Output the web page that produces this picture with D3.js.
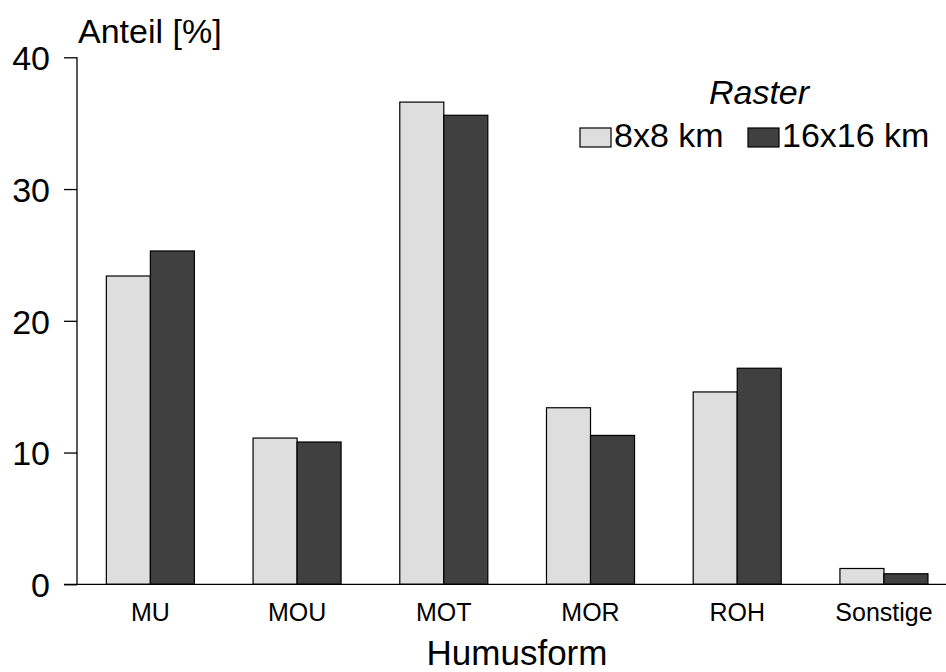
<!DOCTYPE html>
<html>
<head>
<meta charset="utf-8">
<script src="https://cdn.jsdelivr.net/npm/d3@7"></script>
<style>
  body { margin: 0; background: #fff; }
  text { font-family: "Liberation Sans", Arial, sans-serif; fill: #000; }
</style>
</head>
<body>
<script>
// data
var categories = ['MU', 'MOU', 'MOT', 'MOR', 'ROH', 'Sonstige'];
var seriesNames = ['8x8 km', '16x16 km'];
var raster8 = [23.4, 11.1, 36.6, 13.4, 14.6, 1.2];
var raster16 = [25.3, 10.8, 35.6, 11.3, 16.4, 0.8];
var yTicks = [0, 10, 20, 30, 40];
var colors = ['#dedede', '#404040'];

var svg = d3.select('body').append('svg')
  .attr('width', 946)
  .attr('height', 672);

var x = d3.scaleBand()
  .domain(categories)
  .range([77, 957.3])
  .paddingInner(0.4)
  .paddingOuter(0.2);

var x1 = d3.scaleBand()
  .domain(seriesNames)
  .range([0, x.bandwidth()]);

var y = d3.scaleLinear()
  .domain([0, 40])
  .range([584.3, 57.3]);

var rows = categories.map(function(c, i) {
  return { cat: c, values: [raster8[i], raster16[i]] };
});

// bars
var group = svg.append('g').selectAll('g')
  .data(rows)
  .enter().append('g')
    .attr('transform', function(d) { return 'translate(' + x(d.cat) + ',0)'; });

group.selectAll('rect')
  .data(function(d) { return d.values.map(function(v, j) { return { s: seriesNames[j], v: v, j: j }; }); })
  .enter().append('rect')
    .attr('x', function(d) { return x1(d.s); })
    .attr('y', function(d) { return y(d.v); })
    .attr('width', x1.bandwidth())
    .attr('height', function(d) { return y(0) - y(d.v); })
    .style('fill', function(d) { return colors[d.j]; })
    .style('stroke', '#000')
    .style('stroke-width', 1.2);

// y axis
var yAxis = svg.append('g')
  .attr('transform', 'translate(77,0)')
  .call(d3.axisLeft(y).tickValues(yTicks).tickSize(13).tickPadding(14));
yAxis.select('.domain').attr('d', 'M0,' + y(40) + 'V' + y(0)).style('stroke-width', 1.3);
yAxis.selectAll('.tick line').style('stroke-width', 1.3);
yAxis.selectAll('.tick text')
  .style('font-size', '34px')
  .style('font-family', '"Liberation Sans", Arial, sans-serif')
  .attr('dy', '0.36em');

// x axis (line only)
var xAxis = svg.append('g')
  .attr('transform', 'translate(0,' + y(0) + ')')
  .call(d3.axisBottom(x).tickSize(0).tickPadding(19));
xAxis.select('.domain').attr('d', 'M64,0H957').style('stroke-width', 1.3);
xAxis.selectAll('.tick text')
  .style('font-size', '25px')
  .style('font-family', '"Liberation Sans", Arial, sans-serif');

// titles
svg.append('text')
  .attr('x', 78)
  .attr('y', 43)
  .style('font-size', '34px')
  .text('Anteil [%]');

svg.append('text')
  .attr('x', 517)
  .attr('y', 665)
  .attr('text-anchor', 'middle')
  .style('font-size', '35px')
  .text('Humusform');

// legend
svg.append('text')
  .attr('x', 759)
  .attr('y', 104)
  .attr('text-anchor', 'middle')
  .style('font-size', '34px')
  .style('font-style', 'italic')
  .text('Raster');

var legendX = [580, 748];
var legend = svg.append('g').selectAll('g')
  .data(seriesNames)
  .enter().append('g')
    .attr('transform', function(d, i) { return 'translate(' + legendX[i] + ',128)'; });

legend.append('rect')
  .attr('width', 31)
  .attr('height', 19)
  .style('fill', function(d, i) { return colors[i]; })
  .style('stroke', '#000')
  .style('stroke-width', 1.2);

legend.append('text')
  .attr('x', 34)
  .attr('y', 19)
  .style('font-size', '34px')
  .text(function(d) { return d; });
</script>
</body>
</html>
